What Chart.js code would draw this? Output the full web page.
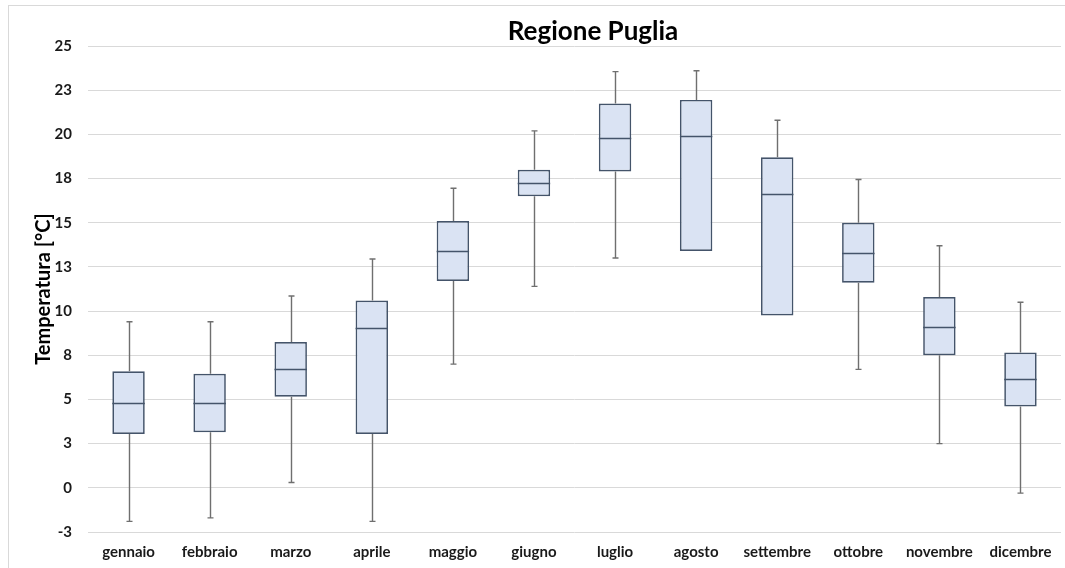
<!DOCTYPE html>
<html>
<head>
<meta charset="utf-8">
<script src="https://cdn.jsdelivr.net/npm/chart.js@4/dist/chart.umd.min.js"></script>
<style>
  html, body { margin: 0; padding: 0; background: #fff; overflow: hidden; }
  #wrap { width: 1065px; height: 568px; position: relative; }
</style>
</head>
<body>
<div id="wrap"><canvas id="myChart"></canvas></div>
<script>
const months = ["gennaio", "febbraio", "marzo", "aprile", "maggio", "giugno",
  "luglio", "agosto", "settembre", "ottobre", "novembre", "dicembre"];
const minValues = [-1.9, -1.7, 0.3, -1.9, 7.0, 11.4, 13.0, 13.4, 9.75, 6.7, 2.5, -0.3];
const q1Values = [3.05, 3.15, 5.15, 3.05, 11.7, 16.5, 17.9, 13.4, 9.75, 11.6, 7.5, 4.6];
const medianValues = [4.8, 4.8, 6.7, 9.05, 13.4, 17.25, 19.8, 19.9, 16.6, 13.3, 9.1, 6.15];
const q3Values = [6.6, 6.45, 8.25, 10.6, 15.1, 18.0, 21.75, 21.95, 18.7, 15.0, 10.8, 7.65];
const maxValues = [9.4, 9.4, 10.85, 12.95, 16.95, 20.2, 23.55, 23.6, 20.8, 17.45, 13.7, 10.5];
const yTicks = [-2.5, 0, 2.5, 5, 7.5, 10, 12.5, 15, 17.5, 20, 22.5, 25];

const FONT = "Lato, 'Open Sans', sans-serif";

// whiskers, caps and median lines, placed with the chart's own scales
const boxExtras = {
  id: "boxExtras",
  beforeDraw(chart) {
    const ctx = chart.ctx;
    ctx.save();
    ctx.strokeStyle = "#d9d9d9";
    ctx.lineWidth = 1;
    ctx.strokeRect(8.5, 5.5, 1200, 700);
    ctx.restore();
  },
  afterDatasetsDraw(chart) {
    const ctx = chart.ctx;
    const y = chart.scales.y;
    const bars = chart.getDatasetMeta(0).data;
    ctx.save();
    bars.forEach((bar, i) => {
      const cx = Math.round(bar.x) + 0.5;
      const half = bar.width / 2;
      ctx.strokeStyle = "#6f6f6f";
      ctx.lineWidth = 1.4;
      // upper whisker
      if (maxValues[i] > q3Values[i]) {
        const yTop = y.getPixelForValue(maxValues[i]);
        ctx.beginPath();
        ctx.moveTo(cx, y.getPixelForValue(q3Values[i]));
        ctx.lineTo(cx, yTop);
        ctx.moveTo(cx - 3, yTop);
        ctx.lineTo(cx + 3, yTop);
        ctx.stroke();
      }
      // lower whisker
      if (minValues[i] < q1Values[i]) {
        const yBot = y.getPixelForValue(minValues[i]);
        ctx.beginPath();
        ctx.moveTo(cx, y.getPixelForValue(q1Values[i]));
        ctx.lineTo(cx, yBot);
        ctx.moveTo(cx - 3, yBot);
        ctx.lineTo(cx + 3, yBot);
        ctx.stroke();
      }
      // median
      const yMed = Math.round(y.getPixelForValue(medianValues[i])) + 0.5;
      ctx.strokeStyle = "#44546a";
      ctx.lineWidth = 1.6;
      ctx.beginPath();
      ctx.moveTo(bar.x - half, yMed);
      ctx.lineTo(bar.x + half, yMed);
      ctx.stroke();
    });
    ctx.restore();
  },
  afterDraw(chart) {
    const ctx = chart.ctx;
    ctx.save();
    ctx.fillStyle = "#000";
    ctx.font = "bold 26px " + FONT;
    ctx.textAlign = "center";
    ctx.textBaseline = "middle";
    ctx.fillText("Regione Puglia", 593, 32);
    ctx.restore();
  },
};

document.addEventListener("DOMContentLoaded", function () {
  const ctx = document.getElementById("myChart").getContext("2d");
  new Chart(ctx, {
    type: "bar",
    data: {
      labels: months,
      datasets: [
        {
          label: "Temperatura",
          data: months.map((m, i) => [q1Values[i], q3Values[i]]),
          backgroundColor: "#dae3f3",
          borderColor: "#44546a",
          borderWidth: 1.7,
          borderSkipped: false,
          categoryPercentage: 1,
          barPercentage: 0.4,
        },
      ],
    },
    options: {
      responsive: true,
      maintainAspectRatio: false,
      animation: false,
      layout: { padding: { top: 46, left: 32, right: 4, bottom: 6 } },
      scales: {
        y: {
          min: -2.5,
          max: 25,
          afterBuildTicks: (scale) => {
            scale.ticks = yTicks.map((v) => ({ value: v }));
          },
          afterFit: (scale) => {
            scale.width = 56;
          },
          ticks: {
            padding: 16,
            color: "#1a1a1a",
            font: { family: FONT, size: 15, weight: "bold" },
            callback: (v) => Math.sign(v) * Math.round(Math.abs(v)),
          },
          grid: { color: "#d9d9d9", lineWidth: 1, drawTicks: false },
          border: { display: false },
          title: {
            display: true,
            text: "Temperatura [°C]",
            color: "#000",
            font: { family: FONT, size: 20, weight: "bold" },
            padding: { top: 0, bottom: 0 },
          },
        },
        x: {
          afterFit: (scale) => {
            scale.height = 30;
          },
          ticks: {
            padding: 11,
            color: "#1a1a1a",
            font: { family: FONT, size: 15, weight: "bold" },
            maxRotation: 0,
            autoSkip: false,
          },
          grid: { display: false, drawTicks: false },
          border: { display: false },
        },
      },
      plugins: {
        legend: { display: false },
        tooltip: { enabled: false },
      },
    },
    plugins: [boxExtras],
  });
});
</script>
</body>
</html>
